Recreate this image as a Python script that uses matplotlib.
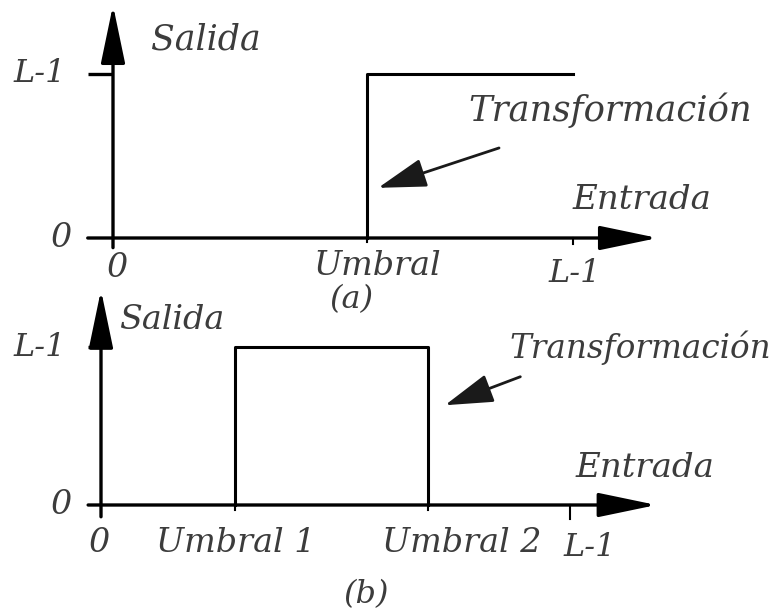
import matplotlib
matplotlib.use('Agg')
import matplotlib.pyplot as plt

# grey levels run from 0 to L-1
L = 255

# (a) single threshold
umbral_a = 141
step_x = [umbral_a, umbral_a, L]
step_y = [0, L, L]

# (b) two thresholds
umbral_1 = 73
umbral_2 = 178
box_x = [umbral_1, umbral_1, umbral_2, umbral_2]
box_y = [0, L, L, 0]

W, H = 777, 614
TXT = '#3c3c3c'
FONT = dict(family='DejaVu Serif', style='italic', color=TXT)

fig = plt.figure(figsize=(W / 100, H / 100), dpi=100)


def make_axes(top, bottom, ox, oy, x_end, y_end):
    # one axes per panel, origin at pixel (ox, oy), L-1 at pixels x_end / y_end
    ax = fig.add_axes([0, 1 - bottom / H, 1, (bottom - top) / H])
    sx = (x_end - ox) / L
    sy = (oy - y_end) / L
    ax.set_xlim(-ox / sx, (W - ox) / sx)
    ax.set_ylim((oy - bottom) / sy, (oy - top) / sy)
    ax.set_axis_off()
    return ax


def axis_arrow(ax, start, tip):
    ax.annotate('', xy=tip, xytext=start, annotation_clip=False,
                arrowprops=dict(arrowstyle='-|>,head_length=3.6,head_width=0.75',
                                mutation_scale=10, lw=2.4, color='black',
                                shrinkA=0, shrinkB=0))


def pointer(ax, start, tip):
    ax.annotate('', xy=tip, xytext=start, annotation_clip=False,
                arrowprops=dict(arrowstyle='-|>,head_length=3.0,head_width=0.9',
                                mutation_scale=10, lw=2.0, color='#1a1a1a',
                                shrinkA=0, shrinkB=0))


def label(ax, s, xy, off, size=24, ha='center'):
    ax.annotate(s, xy=xy, xytext=off, textcoords='offset pixels',
                ha=ha, va='center', fontsize=size, annotation_clip=False, **FONT)


# ---------------- (a) ----------------
ax = make_axes(0, 307, 113, 238, 573, 74)
axis_arrow(ax, (-14, 0), (302, 0))
axis_arrow(ax, (0, -15), (0, 362))
ax.plot([-14, 0], [L, L], color='black', lw=2.4, solid_capstyle='butt')
ax.plot([L, L], [0, -10], color='black', lw=1.5)
ax.plot([umbral_a, umbral_a], [0, -6], color='black', lw=1.5)
ax.plot(step_x, step_y, color='black', lw=2.2)

ax.text(21, 308, 'Salida', fontsize=25, ha='left', va='center', **FONT)
label(ax, 'L-1', (0, L), (-73, 0), size=23)
label(ax, '0', (0, 0), (-51, 0))
label(ax, '0', (0, 0), (5, -30))
label(ax, 'Umbral', (umbral_a, 0), (10, -28))
label(ax, 'L-1', (L, 0), (2, -35), size=23)
ax.text(197, 199, 'Transformación', fontsize=25.5, ha='left', va='center', **FONT)
ax.text(255, 59, 'Entrada', fontsize=24.5, ha='left', va='center', **FONT)
ax.text(132, -96, '(a)', fontsize=23, ha='center', va='center', **FONT)
pointer(ax, (214, 140), (147, 78))

# ---------------- (b) ----------------
ax = make_axes(307, 614, 101, 505, 570, 347)
axis_arrow(ax, (-7, 0), (302, 0))
axis_arrow(ax, (0, -19), (0, 347))
ax.plot([-7, 0], [L, L], color='black', lw=2.4, solid_capstyle='butt')
ax.plot([L, L], [0, -22], color='black', lw=1.5)
ax.plot([umbral_1, umbral_1], [0, -8], color='black', lw=1.5)
ax.plot([umbral_2, umbral_2], [0, -8], color='black', lw=1.5)
ax.plot(box_x, box_y, color='black', lw=2.2)

ax.text(10, 299, 'Salida', fontsize=24, ha='left', va='center', **FONT)
label(ax, 'L-1', (0, L), (-61, 0), size=23)
label(ax, '0', (0, 0), (-39, 0))
label(ax, '0', (0, 0), (-1, -38))
label(ax, 'Umbral 1', (umbral_1, 0), (0, -38))
label(ax, 'Umbral 2', (umbral_2, 0), (33, -38))
label(ax, 'L-1', (L, 0), (20, -43), size=23)
ax.text(222, 253, 'Transformación', fontsize=23.5, ha='left', va='center', **FONT)
ax.text(258, 60, 'Entrada', fontsize=24.5, ha='left', va='center', **FONT)
ax.text(144, -145, '(b)', fontsize=23, ha='center', va='center', **FONT)
pointer(ax, (228, 207), (187, 161))

fig.savefig('out.png', dpi=100, facecolor='white')
